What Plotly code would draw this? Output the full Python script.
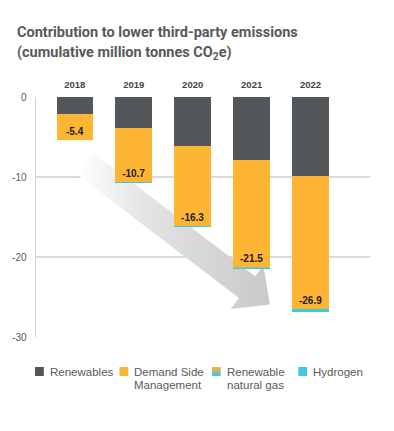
import plotly.graph_objects as go

# ---------------- data ----------------
years = ["2018", "2019", "2020", "2021", "2022"]
renewables = [-2.1, -3.9, -6.1, -7.9, -9.85]
demand_side = [-3.3, -6.7, -10.0, -13.4, -16.6]
renewable_gas = [0.0, 0.0, -0.05, -0.05, -0.05]
hydrogen = [0.0, -0.1, -0.15, -0.15, -0.4]
totals = [round(a + b + c + d, 1) for a, b, c, d in zip(renewables, demand_side, renewable_gas, hydrogen)]
total_labels = [f"{t:.1f}" for t in totals]
y_ticks = [0, -10, -20, -30]

# ---------------- style ----------------
W, H = 394, 431
ML, MT = 30, 97
PLOT_R, PLOT_B = 370, 337
MR, MB = W - PLOT_R, H - PLOT_B
PW, PH = PLOT_R - ML, PLOT_B - MT
XR = [-0.658, 5.008]
YR = [-30, 0]
C_REN = "#53575a"
C_DSM = "#fdb533"
C_H2 = "#3ec8e4"
C_RNG = "#9dbf8c"
TXT = "#58595b"
FONT = "Liberation Sans, Arial, sans-serif"
TFONT = "Roboto, sans-serif"

def pxx(px):   # screen x -> paper
    return (px - ML) / PW

def pxy(py):   # screen y -> paper
    return (PLOT_B - py) / PH

xs = list(range(len(years)))

fig = go.Figure()

# decorative trend arrow (drawn on the base axes, beneath the bars)
arrow_x = [0.304, 3.060, 3.199, 3.308, 2.645, 2.785, 0.029, 0.304]
arrow_y = [-6.894, -22.405, -21.021, -25.94, -26.513, -25.130, -9.619, -6.894]
fig.add_trace(go.Scatter(
    x=arrow_x, y=arrow_y, mode="lines", fill="toself",
    line=dict(width=0, color="rgba(0,0,0,0)"),
    fillgradient=dict(type="horizontal",
                      colorscale=[[0, "#ffffff"], [0.35, "#e4e4e4"], [1, "#c9c9c9"]]),
    hoverinfo="skip", showlegend=False, xaxis="x", yaxis="y"))

bw = 0.62
series = [
    ("Renewables", renewables, C_REN),
    ("Demand Side Management", demand_side, C_DSM),
    ("Renewable natural gas", renewable_gas, C_RNG),
    ("Hydrogen", hydrogen, C_H2),
]
for name, vals, col in series:
    kw = {}
    if name == "Demand Side Management":
        kw = dict(text=total_labels, textposition="inside", insidetextanchor="end",
                  textangle=0, constraintext="none",
                  insidetextfont=dict(size=10, color="#222222", family=FONT, weight=700))
    fig.add_trace(go.Bar(x=xs, y=vals, name=name, width=bw,
                         marker=dict(color=col, line=dict(width=0)),
                         xaxis="x2", yaxis="y2", showlegend=False, **kw))

fig.update_layout(
    width=W, height=H, margin=dict(l=ML, r=MR, t=MT, b=MB),
    paper_bgcolor="white", plot_bgcolor="rgba(0,0,0,0)",
    barmode="relative", bargap=0,
    font=dict(family=FONT, color=TXT),
    xaxis=dict(range=XR, side="top", tickvals=xs, ticktext=years,
               tickfont=dict(size=9.5, color="#444444", family=FONT, weight=700),
               showgrid=False, zeroline=False, showline=False, ticks="",
               ticklabelstandoff=6, fixedrange=True),
    yaxis=dict(range=YR, tickvals=y_ticks, ticktext=[str(v) for v in y_ticks],
               tickfont=dict(size=10, color=TXT, family=FONT),
               showgrid=True, gridcolor="#dadada", gridwidth=1.5,
               zeroline=False, showline=True, linecolor="#d2d2d2", linewidth=1.5,
               ticks="", ticklabelstandoff=6, fixedrange=True),
    xaxis2=dict(range=XR, overlaying="x", visible=False, fixedrange=True),
    yaxis2=dict(range=YR, overlaying="y", visible=False, fixedrange=True),
    showlegend=False,
)

# title
fig.add_annotation(xref="paper", yref="paper", x=pxx(9), y=pxy(32), xanchor="left", yanchor="middle",
                   text="<b>Contribution to lower third-party emissions</b>", showarrow=False,
                   font=dict(size=14.5, color=TXT, family=TFONT))
fig.add_annotation(xref="paper", yref="paper", x=pxx(9), y=pxy(53), xanchor="left", yanchor="middle",
                   text="<b>(cumulative million tonnes CO<sub>2</sub>e)</b>", showarrow=False,
                   font=dict(size=14.5, color=TXT, family=TFONT))

# manual legend
legend_items = [
    (29, ["Renewables"], C_REN),
    (115, ["Demand Side", "Management"], C_DSM),
    (209, ["Renewable", "natural gas"], None),
    (297, ["Hydrogen"], C_H2),
]
sq = 9
ytop = 367
for x0, lines, col in legend_items:
    if col is None:
        c0 = (0xfd, 0xb5, 0x33)
        c1 = (0x3e, 0xc8, 0xe4)
        for i in range(sq):
            t = i / (sq - 1)
            c = tuple(round(a + (b - a) * t) for a, b in zip(c0, c1))
            fig.add_shape(type="rect", xref="paper", yref="paper",
                          x0=pxx(x0), x1=pxx(x0 + sq), y0=pxy(ytop + i), y1=pxy(ytop + i + 1),
                          fillcolor="rgb(%d,%d,%d)" % c, line=dict(width=0))
    else:
        fig.add_shape(type="rect", xref="paper", yref="paper",
                      x0=pxx(x0), x1=pxx(x0 + sq), y0=pxy(ytop), y1=pxy(ytop + sq),
                      fillcolor=col, line=dict(width=0))
    for j, ln in enumerate(lines):
        fig.add_annotation(xref="paper", yref="paper", x=pxx(x0 + 13), y=pxy(372 + 13 * j),
                           xanchor="left", yanchor="middle", text=ln, showarrow=False,
                           font=dict(size=11.5, color=TXT, family=FONT))

fig.write_html("out.html", config={"displayModeBar": False, "staticPlot": True},
               post_script="document.body.style.margin='0px';document.body.style.overflow='hidden';")
